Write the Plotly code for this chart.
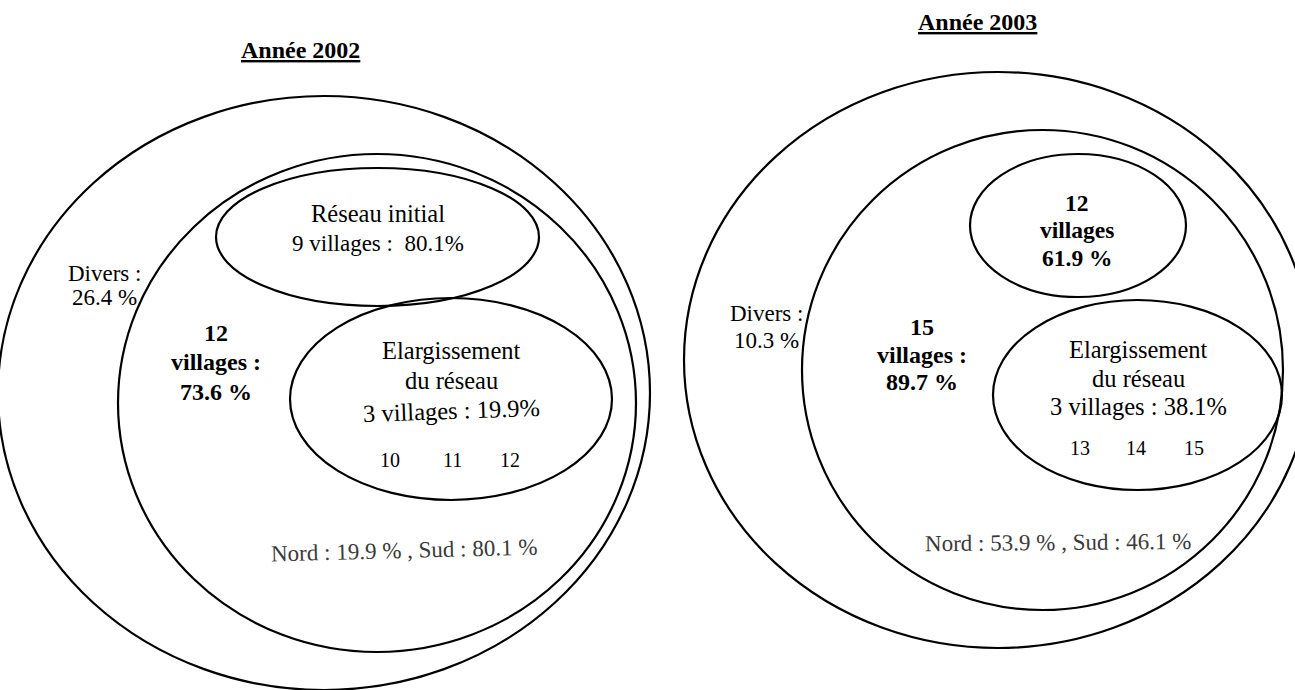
import plotly.graph_objects as go

# ---- data ----
years = ["Année 2002", "Année 2003"]
divers_pct = [26.4, 10.3]
villages_total = [12, 15]
villages_pct = [73.6, 89.7]
core_villages = [9, 12]
core_pct = [80.1, 61.9]
ext_villages = [3, 3]
ext_pct = [19.9, 38.1]
ext_ids = [[10, 11, 12], [13, 14, 15]]
nord_pct = [19.9, 53.9]
sud_pct = [80.1, 46.1]

# ---- layout geometry (page pixel space) ----
W, H = 1295, 690
panels = [
    dict(title=(300, 50),
         outer=(-2, 96, 650, 690),
         middle=(118, 154, 636, 652),
         core=(216, 168, 539, 306),
         ext=(290, 298, 612, 500),
         divers_x=104, divers_y=[273, 297],
         total_x=216, total_y=[333, 362, 392],
         core_x=378, core_y=[213, 243],
         ext_x=451, ext_y=[350, 380, 410],
         ids_y=460, ids_x=[390, 452, 510],
         ns=(404, 550)),
    dict(title=(977, 22),
         outer=(684, 72, 1312, 648),
         middle=(802, 130, 1283, 610),
         core=(970, 154, 1186, 297),
         ext=(993, 300, 1282, 490),
         divers_x=766, divers_y=[313, 340],
         total_x=922, total_y=[327, 355, 382],
         core_x=1077, core_y=[203, 230, 258],
         ext_x=1138, ext_y=[349, 378, 406],
         ids_y=448, ids_x=[1080, 1136, 1194],
         ns=(1058, 542)),
]

FONT = "Liberation Serif"
fig = go.Figure()
fig.add_trace(go.Scatter(x=[0, W], y=[0, H], mode="markers",
                         marker=dict(opacity=0), hoverinfo="skip", showlegend=False))

shapes = []
annotations = []


def ann(x, y, text, size=23, color="black", bold=False, underline=False, angle=0):
    f = dict(family=FONT, size=size, color=color)
    if underline:
        f["lineposition"] = "under"
    annotations.append(dict(x=x, y=y, xref="x", yref="y", showarrow=False,
                            text=f"<b>{text}</b>" if bold else text, font=f,
                            textangle=angle, xanchor="center", yanchor="middle"))


for i, p in enumerate(panels):
    for key in ["outer", "middle", "core", "ext"]:
        x0, y0, x1, y1 = p[key]
        shapes.append(dict(type="circle", xref="x", yref="y", x0=x0, y0=y0, x1=x1, y1=y1,
                           line=dict(color="black", width=2.2), fillcolor="rgba(0,0,0,0)"))

    ann(p["title"][0], p["title"][1], years[i], size=24, bold=True, underline=True)

    for y, t in zip(p["divers_y"], ["Divers :", f"{divers_pct[i]} %"]):
        ann(p["divers_x"], y, t)

    for y, t in zip(p["total_y"], [f"{villages_total[i]}", "villages :", f"{villages_pct[i]} %"]):
        ann(p["total_x"], y, t, size=24, bold=True)

    if i == 0:
        core_lines = ["Réseau initial", f"{core_villages[i]} villages :  {core_pct[i]}%"]
        sizes = [24.5, 23]
        for y, t, s in zip(p["core_y"], core_lines, sizes):
            ann(p["core_x"], y, t, size=s)
    else:
        core_lines = [f"{core_villages[i]}", "villages", f"{core_pct[i]} %"]
        for y, t in zip(p["core_y"], core_lines):
            ann(p["core_x"], y, t, size=23.5, bold=True)

    ext_lines = ["Elargissement", "du réseau", f"{ext_villages[i]} villages : {ext_pct[i]}%"]
    for k, (y, t) in enumerate(zip(p["ext_y"], ext_lines)):
        ann(p["ext_x"], y, t, size=24.5, angle=(-2 if (i == 0 and k == 2) else 0))

    for vx, vid in zip(p["ids_x"], ext_ids[i]):
        ann(vx, p["ids_y"], str(vid), size=20)

    ann(p["ns"][0], p["ns"][1], f"Nord : {nord_pct[i]} % , Sud : {sud_pct[i]} %",
        size=23, color="#3a3a3a", angle=(-1.5 if i == 0 else -0.5))

fig.update_layout(
    width=W, height=H, margin=dict(l=0, r=0, t=0, b=0),
    paper_bgcolor="white", plot_bgcolor="white",
    xaxis=dict(range=[0, W], visible=False, fixedrange=True),
    yaxis=dict(range=[H, 0], visible=False, fixedrange=True),
    shapes=shapes, annotations=annotations, showlegend=False,
)
fig.write_html("out.html",
               config={"displayModeBar": False, "staticPlot": True},
               post_script="document.body.style.margin='0';document.body.style.overflow='hidden';")
